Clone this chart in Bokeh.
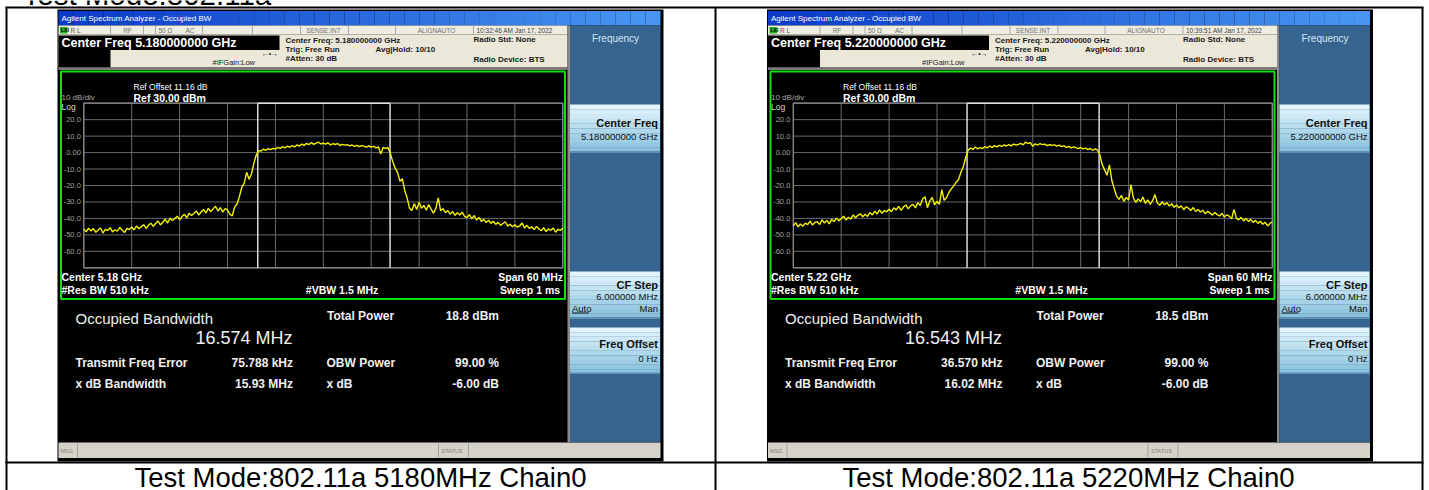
import numpy as np
from bokeh.plotting import figure
from bokeh.models import Range1d, Label
from bokeh.embed import file_html
from bokeh.resources import INLINE
from bokeh.core.properties import value

# ---------------- data ----------------
center_freq_ghz = [5.18, 5.22]
channel_mhz = [5180, 5220]
test_mode = "802.11a"
chain_name = "Chain0"
timestamps = ["10:32:46 AM Jan 17, 2022", "10:39:51 AM Jan 17, 2022"]
span_mhz = 60
ref_level_dbm = 30.0
ref_offset_db = 11.16
db_per_div = 10
res_bw_khz = 510
vbw_mhz = 1.5
sweep_ms = 1
atten_db = 30
cf_step_mhz = 6.0
obw_mhz = [16.574, 16.543]
total_power_dbm = [18.8, 18.5]
freq_error_khz = [75.788, 36.570]
xdb_bw_mhz = [15.93, 16.02]
obw_power_pct = [99.00, 99.00]
xdb_db = [-6.00, -6.00]
y_tick_values = [20, 10, 0, -10, -20, -30, -40, -50, -60]
y_tick_labels = ["20.0", "10.0", "0.00", "-10.0", "-20.0", "-30.0", "-40.0", "-50.0", "-60.0"]

trace_5180 = [
    -46.5, -48.1, -45.9, -47.6, -46.2, -48.4, -47.0, -45.8, -48.9, -46.7,
    -47.3, -45.6, -48.2, -46.9, -47.8, -45.4, -47.1, -48.6, -46.0, -46.8,
    -45.2, -47.0, -44.6, -46.3, -45.0, -43.8, -46.1, -44.2, -42.9, -44.8,
    -43.1, -41.6, -44.0, -42.2, -40.5, -42.8, -39.9, -41.3, -40.2, -38.6,
    -40.8, -38.9, -37.5, -39.6, -36.8, -38.2, -37.0, -35.4, -37.9, -36.1,
    -34.6, -36.7, -33.9, -35.8, -34.2, -32.6, -35.5, -33.4, -36.2, -34.0,
    -34.8, -37.6, -38.4, -33.0, -31.2, -26.5, -21.0, -18.5, -12.0, -16.2,
    -13.0, -6.5, -1.5, 1.2, 1.0, 2.1, 1.4, 2.4, 1.8, 2.6,
    2.2, 3.1, 2.5, 3.6, 2.8, 3.9, 3.2, 4.3, 3.5, 4.6,
    4.0, 5.2, 4.4, 5.6, 4.8, 6.1, 5.0, 5.7, 6.3, 5.2,
    5.8, 5.1, 6.0, 4.6, 5.4, 4.9, 5.5, 4.3, 5.0, 4.5,
    4.8, 4.1, 4.6, 3.8, 4.4, 3.6, 4.2, 3.9, 3.3, 4.0,
    3.4, 3.8, 2.9, 3.5, -0.8, 3.2, 2.5, 3.0, -0.5, -5.5,
    -9.5, -12.0, -17.5, -15.8, -23.0, -27.5, -33.8, -35.2, -31.0, -34.6,
    -30.2, -33.8, -32.1, -35.0, -31.6, -34.3, -36.8, -33.9, -27.5, -35.4,
    -34.0, -36.5, -35.2, -37.4, -35.8, -38.1, -36.6, -37.9, -36.2, -38.8,
    -39.5, -37.6, -40.3, -38.2, -41.0, -39.4, -41.8, -40.6, -42.5, -41.1,
    -43.0, -41.7, -43.6, -42.4, -44.2, -43.1, -42.0, -44.7, -43.5, -45.0,
    -43.9, -45.3, -44.6, -42.8, -45.8, -44.2, -46.0, -45.1, -46.8, -44.9,
    -46.3, -47.5, -45.6, -48.0, -46.4, -47.2, -45.9, -48.4, -46.6, -47.3, -45.8,
]
trace_5220 = [
    -44.5, -42.6, -45.1, -43.4, -44.8, -42.9, -43.8, -41.7, -44.0, -42.5,
    -42.0, -43.7, -40.9, -42.8, -41.2, -43.3, -40.6, -41.9, -39.8, -41.5,
    -40.2, -38.6, -41.0, -39.3, -40.4, -37.9, -39.6, -38.1, -37.2, -39.0,
    -37.5, -38.8, -36.4, -37.9, -35.6, -37.3, -34.8, -36.9, -35.2, -36.0,
    -34.4, -35.9, -33.6, -34.8, -32.7, -35.1, -33.0, -31.8, -34.2, -32.4,
    -31.5, -33.6, -30.4, -32.2, -28.2, -26.8, -33.5, -29.4, -27.2, -31.8,
    -29.6, -31.4, -22.5, -29.0, -27.3, -24.1, -22.0, -20.2, -18.0, -16.4,
    -12.0, -8.5, -3.0, 1.5, 2.8, 1.9, 3.4, 2.2, 3.0, 2.5,
    3.6, 2.8, 3.9, 3.1, 4.2, 3.5, 4.4, 3.7, 4.6, 4.0,
    4.8, 4.1, 5.2, 4.5, 5.0, 5.6, 4.7, 6.4, 5.5, 6.0,
    3.8, 5.3, 4.6, 5.4, 4.8, 5.1, 4.2, 4.9, 4.4, 4.7,
    3.9, 4.5, 3.6, 4.1, 3.2, 3.8, 2.9, 3.5, 3.0, 2.4,
    3.1, 2.2, 2.7, 1.8, 2.5, 1.4, 2.2, 1.6, -1.5, -7.5,
    -10.5, -13.8, -7.5, -17.0, -21.8, -26.5, -28.4, -26.0, -29.6, -27.2,
    -28.8, -19.5, -27.6, -30.3, -28.1, -29.8, -27.0, -30.9, -28.7, -31.4,
    -29.2, -25.5, -30.6, -32.0, -29.9, -31.7, -30.4, -32.5, -31.1, -33.2,
    -31.8, -33.6, -32.3, -34.7, -32.9, -33.8, -35.2, -33.4, -35.8, -34.6,
    -36.1, -35.0, -37.2, -35.6, -36.8, -38.0, -36.4, -37.7, -38.5, -36.9,
    -39.2, -37.8, -38.6, -40.3, -34.5, -39.8, -40.9, -39.3, -41.5, -40.0,
    -41.8, -40.6, -42.4, -41.2, -43.0, -41.7, -43.6, -42.3, -44.6, -43.1, -42.0,
]
traces = [trace_5180, trace_5220]

# ---------------- figure (page pixel space) ----------------
W, H = 1429, 490
X0, X1 = 0, W
Y0, Y1 = 0, H
FONT = "Liberation Sans"

p = figure(width=W, height=H, x_range=Range1d(X0, X1), y_range=Range1d(Y1, Y0),
           x_axis_type=None, y_axis_type=None, toolbar_location=None,
           output_backend="svg", min_border=0, title=None)
p.outline_line_color = None
p.background_fill_color = "white"
p.border_fill_color = "white"


def box(l, r, t, b, color, line=None, lw=1):
    p.quad(left=l, right=r, top=t, bottom=b, fill_color=color, line_color=line, line_width=lw)


def lab(x, y, s, size, color="#ffffff", bold=False, align="left", base="middle", font=FONT):
    p.add_layout(Label(x=x, y=y, text=s, text_font=font, text_font_size=f"{size}px",
                       text_color=color, text_font_style="bold" if bold else "normal",
                       text_align=align, text_baseline=base))


def mix(c1, c2, t):
    return "#%02x%02x%02x" % tuple(int(round(a + (b - a) * t)) for a, b in zip(c1, c2))


def draw_screen(k, dx):
    X = lambda v: v + dx
    # outer black frame of the screenshot
    box(X(57), X(663), 9, 461, "#000000")
    # title bar (horizontal gradient)
    n = 40
    xs = np.linspace(X(58), X(660), n + 1)
    p.quad(left=xs[:-1], right=xs[1:], top=[10.5] * n, bottom=[25] * n,
           fill_color=[mix((10, 60, 200), (72, 150, 242), i / (n - 1)) for i in range(n)],
           line_color=None)
    lab(X(61), 17.8, "Agilent Spectrum Analyzer - Occupied BW", 8, "#ffffff")
    # status row
    box(X(58), X(567), 25, 34, "#efece2")
    seps = [110, 143, 155, 202, 252, 300, 348, 395, 473]
    p.segment(x0=[X(s) for s in seps], x1=[X(s) for s in seps], y0=[25.5] * len(seps),
              y1=[33.5] * len(seps), line_color="#a8a8a8", line_width=1)
    box(X(59.5), X(67), 26.5, 33, "#22b022")
    lab(X(60.5), 29.8, "LXI", 5, "#000000", bold=True)
    lab(X(70), 29.8, "R L", 6.5, "#606060")
    lab(X(127), 29.8, "RF", 6.5, "#707070", align="center")
    lab(X(158), 29.8, "50 Ω", 6.5, "#707070")
    lab(X(185), 29.8, "AC", 6.5, "#707070")
    lab(X(323), 29.8, "SENSE:INT", 6.5, "#707070", align="center")
    lab(X(436), 29.8, "ALIGNAUTO", 6.5, "#707070", align="center")
    lab(X(476), 29.8, timestamps[k], 6.5, "#404040")
    # header
    box(X(58), X(567), 34, 67, "#ebe8da")
    box(X(58), X(279), 35, 49.5, "#000000")
    box(X(58), X(110), 49.5, 67, "#000000")
    lab(X(61), 42.6, f"Center Freq {center_freq_ghz[k]:.9f} GHz", 12.5, "#ffffff", bold=True)
    hc = "#1a1a1a"
    lab(X(285), 40, f"Center Freq: {center_freq_ghz[k]:.9f} GHz", 8, hc, bold=True)
    lab(X(285), 48.6, "Trig: Free Run", 8, hc, bold=True)
    lab(X(285), 58.2, f"#Atten: {atten_db} dB", 8, hc, bold=True)
    lab(X(375), 48.6, "Avg|Hold: 10/10", 8, hc, bold=True)
    lab(X(473), 38.6, "Radio Std: None", 8, hc, bold=True)
    lab(X(473), 59.2, "Radio Device: BTS", 8, hc, bold=True)
    lab(X(212), 62, "#IFGain:Low", 7.5, hc)
    lab(X(269.5), 53.3, "←•→", 7, hc, align="center")
    box(X(58), X(567), 67, 69.5, "#7c7c7c")
    # spectrum panel
    box(X(58), X(567), 69.5, 300, "#000000")
    p.quad(left=X(60.5), right=X(564.5), top=71, bottom=298.5, fill_color=None,
           line_color="#10e010", line_width=2)
    # info panel
    box(X(58), X(567), 300, 441.5, "#000000")
    # sidebar
    box(X(567), X(569.5), 25, 441.5, "#8c8c8c")
    box(X(569.5), X(660), 25, 441.5, "#36648f")
    lab(X(615), 37.5, "Frequency", 10, "#d2e4f4", align="center")
    for (t, b) in [(104, 152), (271, 318), (327, 373.5)]:
        m = 10
        ys = np.linspace(t, b, m + 1)
        p.quad(left=[X(569.5)] * m, right=[X(659.5)] * m, top=ys[:-1], bottom=ys[1:],
               fill_color=[mix((226, 243, 251), (136, 194, 222), i / (m - 1)) for i in range(m)],
               line_color=None)
        box(X(569.5), X(659.5), b - 1.5, b, "#5d8fb1")
    bc = "#111111"
    lab(X(657.5), 122, "Center Freq", 11, bc, bold=True, align="right")
    lab(X(657.5), 136, f"{center_freq_ghz[k]:.9f} GHz", 9.5, bc, align="right")
    lab(X(657.5), 284.5, "CF Step", 11, bc, bold=True, align="right")
    lab(X(657.5), 296, f"{cf_step_mhz:.6f} MHz", 9.5, bc, align="right")
    lab(X(571.5), 307.5, "Auto", 9.5, bc)
    p.segment(x0=X(571.5), x1=X(588.5), y0=312.5, y1=312.5, line_color=bc, line_width=1)
    lab(X(657.5), 307.5, "Man", 9.5, bc, align="right")
    lab(X(657.5), 343.5, "Freq Offset", 11, bc, bold=True, align="right")
    lab(X(657.5), 357.5, "0 Hz", 9.5, bc, align="right")
    # MSG bar
    box(X(58), X(660), 442, 457.5, "#d5d2c9")
    p.segment(x0=[X(77), X(438), X(468)], x1=[X(77), X(438), X(468)], y0=[443] * 3,
              y1=[457] * 3, line_color="#a0a0a0", line_width=1)
    lab(X(60), 450, "MSG", 5.5, "#808080")
    lab(X(441), 450, "STATUS", 5.5, "#808080")

    # ---- spectrum plot through named data ranges ----
    gx0, gx1 = X(83.3), X(562.3)
    gy0, gy1 = 102.7, 267.3
    f_lo, f_hi = -span_mhz / 2, span_mhz / 2
    db_top = ref_level_dbm
    db_bot = ref_level_dbm - 10 * db_per_div
    fs = (f_hi - f_lo) / (gx1 - gx0)
    ds = (db_top - db_bot) / (gy1 - gy0)
    xr, yr = f"f{k}", f"db{k}"
    p.extra_x_ranges[xr] = Range1d(f_lo - (gx0 - X0) * fs, f_lo + (X1 - gx0) * fs)
    p.extra_y_ranges[yr] = Range1d(db_bot - (Y1 - gy1) * ds, db_top + (gy0 - Y0) * ds)
    vgrid = [f_lo + i * (f_hi - f_lo) / 10 for i in range(11)]
    hgrid = [db_bot + i * db_per_div for i in range(11)]
    p.segment(x0=vgrid, x1=vgrid, y0=[db_bot] * 11, y1=[db_top] * 11, line_color="#6a6a6a",
              line_width=1, x_range_name=xr, y_range_name=yr)
    p.segment(x0=[f_lo] * 11, x1=[f_hi] * 11, y0=hgrid, y1=hgrid, line_color="#6a6a6a",
              line_width=1, x_range_name=xr, y_range_name=yr)
    p.quad(left=f_lo, right=f_hi, top=db_top, bottom=db_bot, fill_color=None,
           line_color="#8c8c8c", line_width=1.2, x_range_name=xr, y_range_name=yr)
    p.text(x=[f_lo] * len(y_tick_values), y=y_tick_values, text=y_tick_labels,
           x_offset=-3, text_align="right", text_baseline="middle",
           text_font=value(FONT), text_font_size="7.5px", text_color="#a0a0a0",
           x_range_name=xr, y_range_name=yr)
    fc = freq_error_khz[k] / 1000.0
    m_lo, m_hi = fc - obw_mhz[k] / 2, fc + obw_mhz[k] / 2
    p.segment(x0=[m_lo, m_hi, m_lo], x1=[m_lo, m_hi, m_hi], y0=[db_bot, db_bot, db_top],
              y1=[db_top, db_top, db_top], line_color="#dcdcdc", line_width=1.5,
              x_range_name=xr, y_range_name=yr)
    tr = traces[k]
    freqs = np.linspace(f_lo, f_hi, len(tr))
    p.line(freqs, tr, line_color="#f2f200", line_width=1.4, x_range_name=xr, y_range_name=yr)

    lab(X(133), 86, f"Ref Offset {ref_offset_db:.2f} dB", 8.5, "#ffffff")
    lab(X(133), 97, f"Ref {ref_level_dbm:.2f} dBm", 10.5, "#ffffff", bold=True)
    lab(X(61), 97, f"{db_per_div} dB/div", 8, "#a8a8a8")
    lab(X(61), 106.5, "Log", 8.5, "#d8d8d8")
    lab(X(61), 276, f"Center  {center_freq_ghz[k]:.2f} GHz", 10.5, "#ffffff", bold=True)
    lab(X(61), 289, f"#Res BW  {res_bw_khz} kHz", 10.5, "#ffffff", bold=True)
    lab(X(343), 289, f"#VBW  {vbw_mhz} MHz", 10.5, "#ffffff", bold=True, align="center")
    lab(X(562.5), 276, f"Span {span_mhz} MHz", 10.5, "#ffffff", bold=True, align="right")
    lab(X(562.5), 289, f"Sweep  {sweep_ms} ms", 10.5, "#ffffff", bold=True, align="right")

    # info texts
    ic = "#f0f0f0"
    lab(X(75), 318, "Occupied Bandwidth", 15, ic)
    lab(X(292), 337.5, f"{obw_mhz[k]:.3f} MHz", 18, ic, align="right")
    lab(X(326.5), 315.8, "Total Power", 12, ic, bold=True)
    lab(X(498.5), 315.8, f"{total_power_dbm[k]:.1f} dBm", 12, ic, bold=True, align="right")
    lab(X(75), 362.5, "Transmit Freq Error", 12, ic, bold=True)
    lab(X(292.5), 362.5, f"{freq_error_khz[k]:.3f} kHz", 12, ic, bold=True, align="right")
    lab(X(326), 362.5, "OBW Power", 12, ic, bold=True)
    lab(X(498.5), 362.5, f"{obw_power_pct[k]:.2f} %", 12, ic, bold=True, align="right")
    lab(X(75), 383.3, "x dB Bandwidth", 12, ic, bold=True)
    lab(X(292.5), 383.3, f"{xdb_bw_mhz[k]:.2f} MHz", 12, ic, bold=True, align="right")
    lab(X(326), 383.3, "x dB", 12, ic, bold=True)
    lab(X(498.5), 383.3, f"{xdb_db[k]:.2f} dB", 12, ic, bold=True, align="right")


draw_screen(0, 0)
draw_screen(1, 709.5)

# table lines
p.segment(x0=[5, 5], x1=[1423, 1423], y0=[7, 462], y1=[7, 462], line_color="#000000",
          line_width=2)
p.segment(x0=[6, 715, 1422], x1=[6, 715, 1422], y0=[7, 7, 7], y1=[490, 490, 490],
          line_color="#000000", line_width=2)

# heading of the page (cut off at the top in the reference) and captions
lab(22, -6.5, f"Test Mode:{test_mode}", 29.5, "#000000")
lab(360, 477, f"Test Mode:{test_mode} {channel_mhz[0]}MHz {chain_name}", 27.5, "#000000",
    align="center")
lab(1068, 477, f"Test Mode:{test_mode} {channel_mhz[1]}MHz {chain_name}", 27.5, "#000000",
    align="center")

open("out.html", "w").write(file_html(p, INLINE))
